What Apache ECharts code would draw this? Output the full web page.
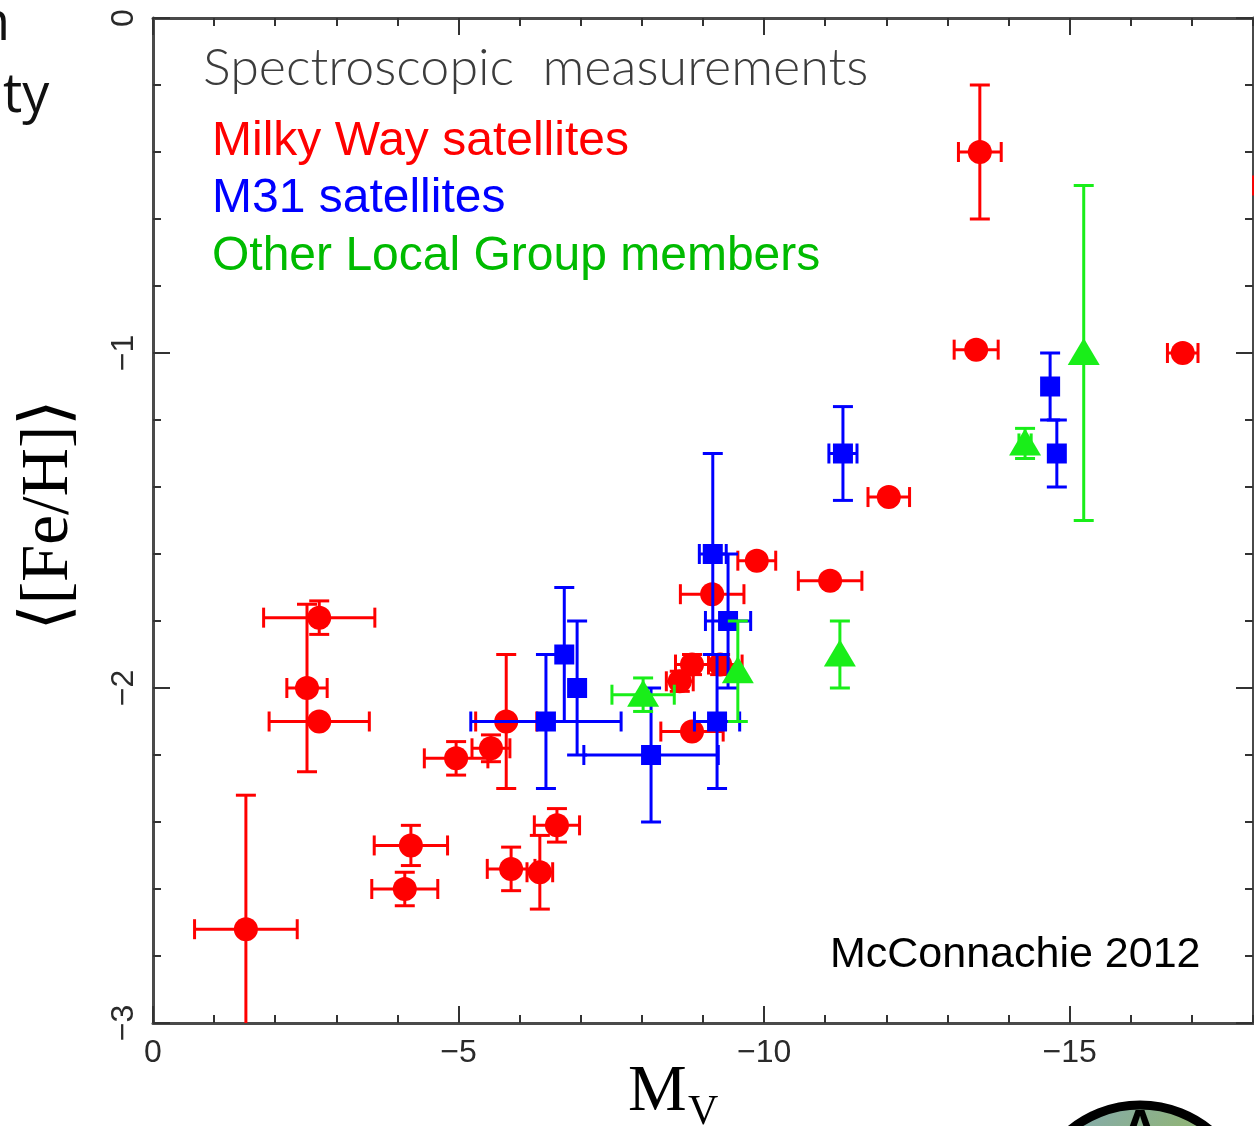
<!DOCTYPE html>
<html>
<head>
<meta charset="utf-8">
<script src="https://cdn.jsdelivr.net/npm/echarts@6/dist/echarts.min.js"></script>
<style>
  html, body { margin: 0; padding: 0; background: #fff; }
  #chart { width: 1254px; height: 1126px; }
</style>
</head>
<body>
<div id="chart"></div>
<script>
// Milky Way satellites: absolute magnitude, mean metallicity and their errors
const mwMv      = [-13.53, -13.47, -16.85, -18.50, -12.04, -11.08, -9.88, -9.15, -8.82, -8.62, -9.28, -8.82, -5.78, -5.53, -4.96, -6.61, -5.86, -6.33, -4.22, -4.12, -1.52, -2.72, -2.52, -2.72];
const mwMvErr   = [0.35, 0.36, 0.25, 0.49, 0.34, 0.52, 0.31, 0.52, 0.27, 0.22, 0.36, 0.51, 0.50, 0.31, 0.52, 0.37, 0.39, 0.21, 0.60, 0.54, 0.84, 0.91, 0.33, 0.82];
const mwFeH     = [-0.40, -0.99, -1.00, -0.50, -1.43, -1.68, -1.62, -1.72, -1.93, -1.98, -1.93, -2.13, -2.10, -2.18, -2.21, -2.41, -2.54, -2.55, -2.47, -2.60, -2.72, -1.79, -2.00, -2.10];
const mwFeHErr  = [0.20, 0, 0, 0, 0, 0, 0, 0, 0.03, 0.03, 0.03, 0, 0.20, 0.04, 0.05, 0.05, 0.065, 0.11, 0.06, 0.05, 0.40, 0.05, 0.25, 0];

// M31 satellites
const m31Mv     = [-14.68, -14.79, -11.29, -9.16, -9.23, -9.41, -6.73, -6.43, -6.94, -8.15];
const m31MvErr  = [0, 0, 0.23, 0.22, 0.37, 0.37, 0, 1.23, 0, 1.10];
const m31FeH    = [-1.10, -1.30, -1.30, -1.60, -2.10, -1.80, -1.90, -2.10, -2.00, -2.20];
const m31FeHErr = [0.10, 0.10, 0.14, 0.30, 0.20, 0.20, 0.20, 0.20, 0.20, 0.20];

// Other Local Group members
const lgMv      = [-15.23, -14.27, -11.24, -9.57, -8.02];
const lgMvErr   = [0, 0.10, 0, 0, 0.51];
const lgFeH     = [-1.00, -1.27, -1.90, -1.95, -2.02];
const lgFeHErr  = [0.50, 0.045, 0.10, 0.15, 0.05];

// Axis ticks and labels
const mvLabelTicks  = [0, -5, -10, -15];
const fehLabelTicks = [0, -1, -2, -3];

const RED = '#ff0000', BLUE = '#0000ff', GREEN = '#19ee19';

function rows(mv, mvErr, feh, fehErr) {
  return mv.map((v, i) => [v, feh[i], mvErr[i], fehErr[i]]);
}

// Error bars with end caps plus a filled symbol, clipped at the plot frame vertically
function errorBarRenderer(color, shape) {
  return function (params, api) {
    const x = api.value(0), y = api.value(1), xe = api.value(2), ye = api.value(3);
    const p = api.coord([x, y]);
    const cs = params.coordSys;
    const top = cs.y, bottom = cs.y + cs.height;
    const style = { stroke: color, lineWidth: 3, fill: null };
    const cap = 10;
    const kids = [];
    if (ye > 0) {
      const yHi = api.coord([x, y + ye])[1];
      const yLo = api.coord([x, y - ye])[1];
      kids.push({ type: 'line', shape: { x1: p[0], y1: Math.max(yHi, top), x2: p[0], y2: Math.min(yLo, bottom) }, style });
      if (yHi >= top) kids.push({ type: 'line', shape: { x1: p[0] - cap, y1: yHi, x2: p[0] + cap, y2: yHi }, style });
      if (yLo <= bottom) kids.push({ type: 'line', shape: { x1: p[0] - cap, y1: yLo, x2: p[0] + cap, y2: yLo }, style });
    }
    if (xe > 0) {
      const xA = api.coord([x + xe, y])[0];
      const xB = api.coord([x - xe, y])[0];
      kids.push({ type: 'line', shape: { x1: xA, y1: p[1], x2: xB, y2: p[1] }, style });
      kids.push({ type: 'line', shape: { x1: xA, y1: p[1] - cap, x2: xA, y2: p[1] + cap }, style });
      kids.push({ type: 'line', shape: { x1: xB, y1: p[1] - cap, x2: xB, y2: p[1] + cap }, style });
    }
    const fill = { fill: color, stroke: null };
    if (shape === 'circle') {
      kids.push({ type: 'circle', shape: { cx: p[0], cy: p[1], r: 12 }, style: fill });
    } else if (shape === 'square') {
      kids.push({ type: 'rect', shape: { x: p[0] - 10, y: p[1] - 10, width: 20, height: 20 }, style: fill });
    } else {
      kids.push({ type: 'polygon', shape: { points: [[p[0], p[1] - 15], [p[0] + 16, p[1] + 12], [p[0] - 16, p[1] + 12]] }, style: fill });
    }
    return { type: 'group', children: kids };
  };
}

const minus = v => (v === 0 ? '0' : '\u2212' + Math.abs(v));
const frameLine = { show: true, onZero: false, lineStyle: { color: '#4a4a4a', width: 3 } };
const noLine = { show: false, onZero: false };
const tickStyle = { color: '#333', width: 2 };
const tickFont = 'Liberation Sans, Arial, sans-serif';

// each frame side: one axis with minor ticks (and labels), one with the longer major ticks
function xAxisPair(position, withLabels) {
  return [
    {
      type: 'value', gridIndex: 0, position, min: -18, max: 0, interval: 1, inverse: true,
      axisLine: frameLine, splitLine: { show: false },
      axisTick: { show: true, inside: true, length: 8, lineStyle: tickStyle },
      axisLabel: withLabels
        ? { show: true, customValues: mvLabelTicks, formatter: minus, fontSize: 32, color: '#2a2a2a', margin: 14, fontFamily: tickFont }
        : { show: false }
    },
    {
      type: 'value', gridIndex: 0, position, min: -18, max: 0, interval: 1, inverse: true,
      axisLine: noLine, splitLine: { show: false }, axisLabel: { show: false },
      axisTick: { show: true, inside: true, length: 17, customValues: mvLabelTicks, lineStyle: tickStyle }
    }
  ];
}

function yAxisPair(position, withLabels) {
  return [
    {
      type: 'value', gridIndex: 0, position, min: -3, max: 0, interval: 0.2,
      axisLine: frameLine, splitLine: { show: false },
      axisTick: { show: true, inside: true, length: 8, lineStyle: tickStyle },
      axisLabel: withLabels
        ? { show: true, customValues: fehLabelTicks, formatter: minus, rotate: 90, fontSize: 32, color: '#2a2a2a', margin: 13, fontFamily: tickFont }
        : { show: false }
    },
    {
      type: 'value', gridIndex: 0, position, min: -3, max: 0, interval: 0.2,
      axisLine: noLine, splitLine: { show: false }, axisLabel: { show: false },
      axisTick: { show: true, inside: true, length: 17, customValues: fehLabelTicks, lineStyle: tickStyle }
    }
  ];
}

const chart = echarts.init(document.getElementById('chart'), null, { renderer: 'canvas' });

const legendFont = 'Liberation Sans, Arial, sans-serif';

chart.setOption({
  animation: false,
  backgroundColor: '#ffffff',
  grid: { left: 153, top: 18, width: 1100, height: 1005 },
  xAxis: [...xAxisPair('bottom', true), ...xAxisPair('top', false)],
  yAxis: [...yAxisPair('left', true), ...yAxisPair('right', false)],
  series: [
    {
      name: 'Milky Way satellites', type: 'custom', xAxisIndex: 0, yAxisIndex: 0,
      renderItem: errorBarRenderer(RED, 'circle'),
      encode: { x: 0, y: 1 },
      data: rows(mwMv, mwMvErr, mwFeH, mwFeHErr), z: 2
    },
    {
      name: 'M31 satellites', type: 'custom', xAxisIndex: 0, yAxisIndex: 0,
      renderItem: errorBarRenderer(BLUE, 'square'),
      encode: { x: 0, y: 1 },
      data: rows(m31Mv, m31MvErr, m31FeH, m31FeHErr), z: 3
    },
    {
      name: 'Other Local Group members', type: 'custom', xAxisIndex: 0, yAxisIndex: 0,
      renderItem: errorBarRenderer(GREEN, 'triangle'),
      encode: { x: 0, y: 1 },
      data: rows(lgMv, lgMvErr, lgFeH, lgFeHErr), z: 4
    }
  ],
  graphic: [
    // slide text running in from the left edge
    { type: 'text', x: 10, y: 25, style: { text: 'n', fontSize: 54, fontFamily: 'Open Sans, sans-serif', fill: '#111', align: 'right', verticalAlign: 'middle' } },
    { type: 'text', x: 3, y: 97, style: { text: 'ty', fontSize: 54, fontFamily: 'Open Sans, sans-serif', fill: '#111', align: 'left', verticalAlign: 'middle' } },

    { type: 'text', x: 203, y: 68, style: { text: 'Spectroscopic  measurements', fontSize: 52, fontWeight: 300, fontFamily: 'Lato, DejaVu Sans, sans-serif', fill: '#3c3c3c', align: 'left', verticalAlign: 'middle' } },
    { type: 'text', x: 212, y: 142, style: { text: 'Milky Way satellites', fontSize: 48, fontFamily: legendFont, fill: RED, align: 'left', verticalAlign: 'middle' } },
    { type: 'text', x: 212, y: 199, style: { text: 'M31 satellites', fontSize: 48, fontFamily: legendFont, fill: BLUE, align: 'left', verticalAlign: 'middle' } },
    { type: 'text', x: 212, y: 257, style: { text: 'Other Local Group members', fontSize: 48, fontFamily: legendFont, fill: '#00bb00', align: 'left', verticalAlign: 'middle' } },
    { type: 'text', x: 830, y: 955, style: { text: 'McConnachie 2012', fontSize: 43, fontFamily: legendFont, fill: '#000', align: 'left', verticalAlign: 'middle' } },

    // axis titles
    { type: 'text', x: 49, y: 515, rotation: Math.PI / 2, style: { text: '\u27E8[Fe/H]\u27E9', fontSize: 67, fontFamily: 'Liberation Serif, DejaVu Serif, serif', fill: '#000', align: 'center', verticalAlign: 'middle' } },
    { type: 'text', x: 628, y: 1093, style: { text: 'M', fontSize: 66, fontFamily: 'Liberation Serif, serif', fill: '#000', align: 'left', verticalAlign: 'middle' } },
    { type: 'text', x: 688, y: 1113, style: { text: 'V', fontSize: 42, fontFamily: 'Liberation Serif, serif', fill: '#000', align: 'left', verticalAlign: 'middle' } },

    // corner badge
    {
      type: 'circle', shape: { cx: 1140, cy: 1215, r: 110 },
      style: {
        fill: new echarts.graphic.LinearGradient(0, 0, 1, 1, [
          { offset: 0, color: '#7fa7c9' }, { offset: 0.4, color: '#8fb37a' }, { offset: 1, color: '#5b86c4' }
        ]),
        stroke: '#000', lineWidth: 9
      }
    },
    { type: 'text', x: 1140, y: 1106, style: { text: 'A', fontSize: 52, fontWeight: 'bold', fontFamily: 'Liberation Sans, sans-serif', fill: '#000', align: 'center', verticalAlign: 'top' } }
  ]
});
</script>
</body>
</html>
